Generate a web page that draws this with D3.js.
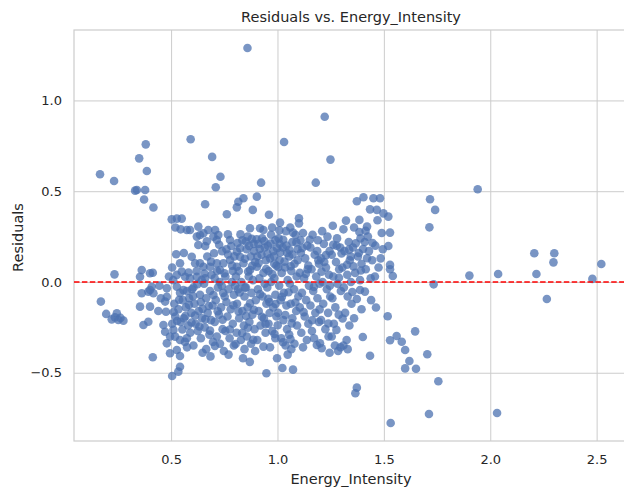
<!DOCTYPE html>
<html>
<head>
<meta charset="utf-8">
<script src="https://cdn.jsdelivr.net/npm/d3@7"></script>
<style>
  html, body { margin: 0; padding: 0; background: #fff; }
  svg { display: block; font-family: "DejaVu Sans", sans-serif; }
</style>
</head>
<body>
<svg id="chart" width="624" height="491"></svg>
<script>
// ---- Data (Energy_Intensity, Residual) ----
const chartTitle = "Residuals vs. Energy_Intensity";
const xLabel = "Energy_Intensity";
const yLabel = "Residuals";
const xTicks = [0.5, 1.0, 1.5, 2.0, 2.5];
const yTicks = [-0.5, 0.0, 0.5, 1.0];
const referenceLine = 0;

const lowIntensity = [
  [0.166,0.593],[0.232,0.556],[0.234,0.042],[0.170,-0.108],[0.195,-0.176],[0.221,-0.206],[0.245,-0.172],[0.252,-0.209],[0.276,-0.213],[0.236,-0.195],[0.262,-0.198],
  [0.381,0.758],[0.350,0.681],[0.386,0.611],[0.331,0.503],[0.339,0.507],[0.378,0.507],[0.373,0.454],[0.417,0.410],
  [0.354,0.029],[0.362,0.066],[0.401,0.048],[0.414,0.051],[0.409,-0.026],[0.393,-0.053],[0.362,-0.062],[0.417,-0.062],[0.401,-0.044],
  [0.354,-0.136],[0.401,-0.136],[0.370,-0.237],[0.393,-0.219],[0.414,-0.415],[0.445,-0.020],[0.452,-0.090],[0.440,-0.160],
  [0.464,-0.237],[0.472,-0.274],[0.480,-0.338],[0.495,-0.393],[0.476,-0.164],[0.480,-0.035],[0.480,-0.081],[0.472,-0.108],[0.490,0.030],[0.495,-0.300]
];

const midLowIntensity = [
  [0.505,-0.518],[0.534,-0.494],[0.542,-0.467],[0.527,-0.375],[0.542,-0.408],[0.519,-0.301],[0.511,-0.264],[0.542,-0.320],[0.574,-0.310],
  [0.503,0.345],[0.527,0.349],[0.550,0.349],[0.520,0.300],[0.545,0.290],[0.542,0.103],[0.550,0.057],[0.527,0.039],[0.505,0.080],[0.510,0.010],
  [0.527,-0.026],[0.542,-0.060],[0.515,-0.120],[0.535,-0.150],[0.520,-0.190],[0.545,-0.220],[0.505,-0.230],
  [0.574,0.286],[0.589,0.286],[0.566,0.029],[0.589,0.020],[0.597,0.139],[0.574,-0.050],[0.560,0.160],[0.585,-0.090],[0.570,-0.140],
  [0.595,-0.170],[0.560,-0.200],[0.580,-0.240],[0.590,-0.280],[0.565,-0.330],[0.592,0.786],[0.575,-0.360],[0.598,-0.040],[0.555,-0.100],
  [0.621,0.250],[0.628,0.305],[0.636,0.259],[0.652,0.268],[0.628,0.204],[0.613,0.103],[0.636,0.103],[0.621,0.029],[0.644,0.011],[0.605,-0.030],
  [0.636,-0.070],[0.610,-0.120],[0.630,-0.160],[0.645,-0.200],[0.615,-0.230],[0.625,-0.270],[0.640,-0.310],[0.605,-0.350],[0.648,-0.390],[0.620,0.060],[0.640,-0.110],
  [0.693,0.689],[0.660,0.428],[0.675,0.286],[0.699,0.250],[0.660,0.198],[0.652,0.084],[0.683,0.084],[0.670,0.140],[0.690,0.040],[0.655,-0.010],
  [0.683,-0.050],[0.665,-0.090],[0.695,-0.130],[0.672,-0.170],[0.688,-0.210],[0.658,-0.250],[0.680,-0.290],[0.697,-0.330],[0.665,-0.370],[0.685,-0.410],[0.660,0.020],
  [0.732,0.580],[0.710,0.522],[0.722,0.259],[0.715,0.231],[0.707,0.286],[0.715,0.103],[0.730,0.066],[0.746,0.103],[0.740,0.170],[0.705,0.020],
  [0.720,-0.030],[0.745,-0.060],[0.710,-0.100],[0.735,-0.140],[0.725,-0.180],[0.705,-0.220],[0.742,-0.260],[0.715,-0.300],[0.730,-0.340],[0.748,-0.380],[0.728,0.000],
  [0.762,0.373],[0.777,0.231],[0.777,0.121],[0.760,0.180],[0.790,0.060],[0.755,0.030],[0.785,0.000],[0.770,-0.040],[0.795,-0.070],[0.760,-0.110],
  [0.780,-0.150],[0.765,-0.190],[0.790,-0.230],[0.755,-0.270],[0.775,-0.310],[0.795,-0.350],[0.770,-0.400],[0.787,0.090],[0.752,-0.080]
];

const midIntensity = [
  [0.809,0.411],[0.840,0.461],[0.816,0.442],[0.809,0.167],[0.824,0.186],[0.809,0.084],[0.824,0.139],[0.840,0.103],[0.835,0.230],[0.805,0.030],
  [0.830,0.000],[0.815,-0.040],[0.845,-0.080],[0.810,-0.120],[0.835,-0.160],[0.820,-0.200],[0.842,-0.240],[0.808,-0.280],[0.828,-0.320],[0.845,-0.370],[0.818,0.060],[0.838,-0.420],
  [0.859,1.289],[0.884,0.397],[0.871,0.296],[0.871,0.066],[0.860,0.250],[0.888,0.210],[0.855,0.180],[0.875,0.140],[0.895,0.110],[0.865,0.030],
  [0.885,0.010],[0.852,-0.030],[0.878,-0.060],[0.898,-0.100],[0.860,-0.140],[0.882,-0.180],[0.868,-0.220],[0.892,-0.260],[0.856,-0.300],[0.876,-0.340],[0.895,-0.380],[0.870,-0.440],[0.890,0.170],
  [0.923,0.547],[0.903,0.470],[0.918,0.296],[0.934,0.286],[0.903,0.084],[0.910,0.210],[0.940,0.190],[0.925,0.150],[0.945,0.120],[0.905,0.140],
  [0.934,0.050],[0.915,0.020],[0.940,-0.010],[0.908,-0.040],[0.930,-0.080],[0.948,-0.120],[0.912,-0.160],[0.936,-0.200],[0.920,-0.240],[0.944,-0.280],
  [0.934,-0.356],[0.948,-0.503],[0.905,-0.320],[0.928,0.240],
  [0.960,0.370],[0.975,0.300],[0.990,0.230],[0.955,0.200],[0.980,0.170],[0.965,0.130],[0.995,0.090],[0.958,0.060],[0.985,0.020],[0.970,0.000],
  [0.952,-0.030],[0.990,-0.070],[0.962,-0.110],[0.980,-0.140],[0.995,-0.190],[0.958,-0.230],[0.975,-0.270],[0.990,-0.310],[0.965,-0.360],[0.985,0.100],[0.970,0.260],[0.998,-0.420],
  [1.031,0.771],[1.012,0.327],[1.040,0.280],[1.005,0.240],[1.025,0.190],[1.045,0.160],[1.010,0.120],[1.035,0.080],[1.020,0.050],[1.048,0.010],
  [1.008,-0.020],[1.030,-0.060],[1.015,-0.100],[1.042,-0.130],[1.003,-0.170],[1.028,-0.210],[1.045,-0.260],[1.018,-0.310],[1.038,-0.350],[1.023,-0.474],[1.010,0.210],[1.048,-0.400],
  [1.073,-0.483],[1.060,0.300],[1.085,0.260],[1.070,0.220],[1.095,0.180],[1.055,0.140],[1.080,0.100],[1.065,0.060],[1.090,0.030],[1.058,-0.010],
  [1.078,-0.040],[1.098,-0.080],[1.062,-0.120],[1.088,-0.160],[1.070,-0.200],[1.092,-0.240],[1.055,-0.290],[1.080,-0.340],[1.095,0.120],[1.065,-0.370]
];

const midHighIntensity = [
  [1.101,0.351],[1.101,0.323],[1.120,0.270],[1.140,0.200],[1.110,0.160],[1.130,0.130],[1.145,0.090],[1.105,0.050],[1.125,0.020],[1.148,-0.020],
  [1.115,-0.060],[1.135,-0.100],[1.105,-0.140],[1.128,-0.190],[1.145,-0.230],[1.112,-0.280],[1.138,-0.320],[1.120,-0.360],[1.142,0.070],[1.108,0.230],
  [1.180,0.547],[1.185,-0.347],[1.165,0.260],[1.190,0.230],[1.155,0.190],[1.175,0.150],[1.195,0.100],[1.160,0.070],[1.182,0.030],[1.198,-0.010],
  [1.168,-0.050],[1.188,-0.090],[1.155,-0.130],[1.178,-0.170],[1.195,-0.220],[1.162,-0.270],[1.172,-0.310],[1.192,0.120],[1.200,-0.338],
  [1.222,0.910],[1.249,0.674],[1.208,-0.365],[1.210,0.280],[1.235,0.250],[1.218,0.210],[1.245,0.170],[1.205,0.130],[1.228,0.080],[1.242,0.040],
  [1.212,0.000],[1.232,-0.040],[1.248,-0.080],[1.215,-0.120],[1.238,-0.170],[1.205,-0.210],[1.225,-0.260],[1.245,-0.390],[1.220,0.110],[1.240,-0.300],
  [1.260,0.310],[1.280,0.240],[1.295,0.190],[1.255,0.150],[1.275,0.110],[1.290,0.070],[1.262,0.030],[1.282,-0.010],[1.298,-0.050],[1.258,-0.090],
  [1.272,-0.140],[1.288,-0.180],[1.265,-0.230],[1.270,-0.350],[1.285,-0.380],[1.296,-0.360],[1.278,0.200],[1.255,-0.300],
  [1.322,0.338],[1.310,0.290],[1.335,0.220],[1.315,0.170],[1.340,0.120],[1.305,0.080],[1.328,0.040],[1.345,0.000],[1.312,-0.030],[1.330,-0.080],
  [1.348,-0.120],[1.318,-0.170],[1.338,-0.240],[1.310,-0.350],[1.330,-0.370],[1.345,0.140],[1.325,-0.320]
];

const highIntensity = [
  [1.373,0.445],[1.385,0.342],[1.360,0.300],[1.390,0.240],[1.355,0.190],[1.378,0.140],[1.395,0.100],[1.365,0.050],[1.388,0.010],[1.373,-0.094],
  [1.388,-0.044],[1.360,-0.200],[1.401,-0.303],[1.373,-0.582],[1.366,-0.613],[1.382,0.160],[1.395,-0.150],
  [1.404,0.467],[1.421,0.305],[1.435,0.400],[1.411,-0.053],[1.435,-0.406],[1.410,0.220],[1.430,0.170],[1.445,0.120],[1.415,0.070],[1.438,0.020],[1.425,0.250],[1.440,-0.100],
  [1.451,0.461],[1.482,0.461],[1.467,0.397],[1.498,0.378],[1.463,-0.141],[1.470,0.340],[1.490,0.270],[1.460,0.200],[1.485,0.130],[1.475,0.080],[1.458,0.030],[1.495,0.180],
  [1.521,0.360],[1.529,0.272],[1.521,0.198],[1.529,0.094],[1.529,0.070],[1.542,0.033],[1.518,-0.189],[1.529,-0.321],[1.532,-0.777],
  [1.560,-0.298],[1.584,-0.329],[1.600,-0.375],[1.620,-0.435],[1.600,-0.476],[1.651,-0.478],[1.647,-0.272],[1.704,-0.398],[1.756,-0.547],[1.712,-0.727],
  [1.717,0.456],[1.741,0.397],[1.714,0.301],[1.734,-0.013],[1.941,0.511],[1.902,0.035],[2.037,0.044],[2.207,0.158],[2.301,0.158],[2.297,0.108],
  [2.217,0.044],[2.266,-0.094],[2.480,0.017],[2.522,0.099],[2.032,-0.722]
];

const denseCore = [
  [0.612,-0.185],[0.633,-0.245],[0.648,-0.148],[0.661,-0.205],[0.677,-0.132],[0.603,-0.078],[0.624,-0.012],[0.657,0.047],[0.688,0.112],[0.702,0.158],
  [0.716,0.061],[0.738,-0.021],[0.751,0.048],[0.699,-0.072],[0.719,-0.161],[0.742,-0.208],[0.683,-0.268],[0.706,-0.352],[0.668,0.224],[0.726,0.205],
  [0.768,0.151],[0.783,0.198],[0.797,0.141],[0.812,0.215],[0.826,0.262],[0.851,0.223],[0.866,0.199],[0.879,0.238],[0.801,-0.021],[0.822,-0.058],
  [0.847,-0.031],[0.862,0.058],[0.881,0.089],[0.793,-0.128],[0.817,-0.163],[0.853,-0.187],[0.871,-0.118],[0.889,-0.153],[0.776,-0.262],[0.834,-0.281],
  [0.861,-0.252],[0.886,-0.318],[0.803,-0.342],[0.847,0.128],[0.767,0.262],
  [0.902,0.235],[0.917,0.182],[0.938,0.226],[0.953,0.155],[0.968,0.212],[0.984,0.142],[0.998,0.186],[1.013,0.163],[1.027,0.232],[1.042,0.201],
  [1.056,0.177],[1.071,0.151],[1.089,0.218],[0.911,0.103],[0.947,0.071],[0.976,0.043],[1.004,0.082],[1.033,0.112],[1.062,0.087],[0.918,-0.067],
  [0.957,-0.093],[0.991,-0.121],[1.021,-0.082],[1.052,-0.057],[1.084,-0.113],[0.927,-0.192],[0.963,-0.171],[1.001,-0.238],[1.037,-0.182],[1.067,-0.228],
  [0.944,-0.231],[0.986,-0.287],[1.026,-0.332],[1.061,-0.315],[1.009,0.285],[1.073,0.272],
  [1.117,0.188],[1.152,0.233],[1.187,0.171],[1.228,0.148],[1.262,0.205],[1.301,0.157],[1.337,0.178],[1.368,0.213],[1.402,0.182],[1.421,0.131],
  [1.133,0.044],[1.171,-0.028],[1.207,0.057],[1.246,-0.021],[1.289,0.023],[1.327,0.095],[1.357,0.086],[1.392,0.063],[1.123,-0.166],[1.163,-0.211],
  [1.198,-0.151],[1.239,-0.229],[1.277,-0.264],[1.306,-0.201],[1.352,-0.055],[1.414,0.282],[1.385,0.275],[1.447,0.215],
  [0.512,-0.165],[0.528,-0.215],[0.553,-0.262],[0.567,-0.188],[0.584,-0.127],[0.596,-0.223],[0.538,-0.098],[0.558,-0.045],[0.582,0.052],[0.524,0.153]
];

const allPoints = [].concat(lowIntensity, midLowIntensity, midIntensity, midHighIntensity, highIntensity, denseCore);

// ---- Layout ----
const svg = d3.select("#chart");
const plot = { left: 74, top: 30, right: 626, bottom: 441 };
const x = d3.scaleLinear().domain([0.0437, 2.638]).range([plot.left, plot.right]);
const y = d3.scaleLinear().domain([-0.876, 1.388]).range([plot.bottom, plot.top]);

const gridColor = "#cccccc";
const textColor = "#262626";

svg.append("defs").append("clipPath").attr("id", "clip")
  .append("rect").attr("x", plot.left).attr("y", plot.top)
  .attr("width", plot.right - plot.left).attr("height", plot.bottom - plot.top);

// Grid lines via axes
const xAxis = d3.axisBottom(x).tickValues(xTicks).tickFormat(d3.format(".1f"))
  .tickSize(-(plot.bottom - plot.top)).tickPadding(14);
const yAxis = d3.axisLeft(y).tickValues(yTicks)
  .tickFormat(d => d3.format(".1f")(d).replace("-", "\u2212"))
  .tickSize(-(plot.right - plot.left)).tickPadding(12);

const gx = svg.append("g").attr("transform", `translate(0,${plot.bottom})`).call(xAxis);
const gy = svg.append("g").attr("transform", `translate(${plot.left},0)`).call(yAxis);
[gx, gy].forEach(g => {
  g.select(".domain").remove();
  g.selectAll(".tick line").attr("stroke", gridColor).attr("stroke-width", 1);
  g.selectAll(".tick text").attr("fill", textColor).attr("font-size", 13)
    .attr("font-family", "DejaVu Sans, sans-serif");
});

// Frame (spines)
svg.append("rect").attr("x", plot.left).attr("y", plot.top)
  .attr("width", plot.right - plot.left).attr("height", plot.bottom - plot.top)
  .attr("fill", "none").attr("stroke", gridColor).attr("stroke-width", 1.2);

// Points
svg.append("g").attr("clip-path", "url(#clip)")
  .selectAll("circle").data(allPoints).join("circle")
  .attr("cx", d => x(d[0])).attr("cy", d => y(d[1])).attr("r", 4.3)
  .attr("fill", "#4c72b0").attr("fill-opacity", 0.75);

// Zero reference line
svg.append("line")
  .attr("x1", plot.left).attr("x2", plot.right)
  .attr("y1", y(referenceLine)).attr("y2", y(referenceLine))
  .attr("stroke", "#ff0000").attr("stroke-width", 1.5)
  .attr("stroke-dasharray", "5.5,2.4");

// Title & labels
svg.append("text").attr("x", 351).attr("y", 22)
  .attr("text-anchor", "middle").attr("font-size", 14.5).attr("fill", textColor)
  .text(chartTitle);
svg.append("text").attr("x", 351).attr("y", 484)
  .attr("text-anchor", "middle").attr("font-size", 14.5).attr("fill", textColor)
  .text(xLabel);
svg.append("text").attr("transform", `translate(23,${(plot.top + plot.bottom) / 2 + 2}) rotate(-90)`)
  .attr("text-anchor", "middle").attr("font-size", 14.5).attr("fill", textColor)
  .text(yLabel);
</script>
</body>
</html>
